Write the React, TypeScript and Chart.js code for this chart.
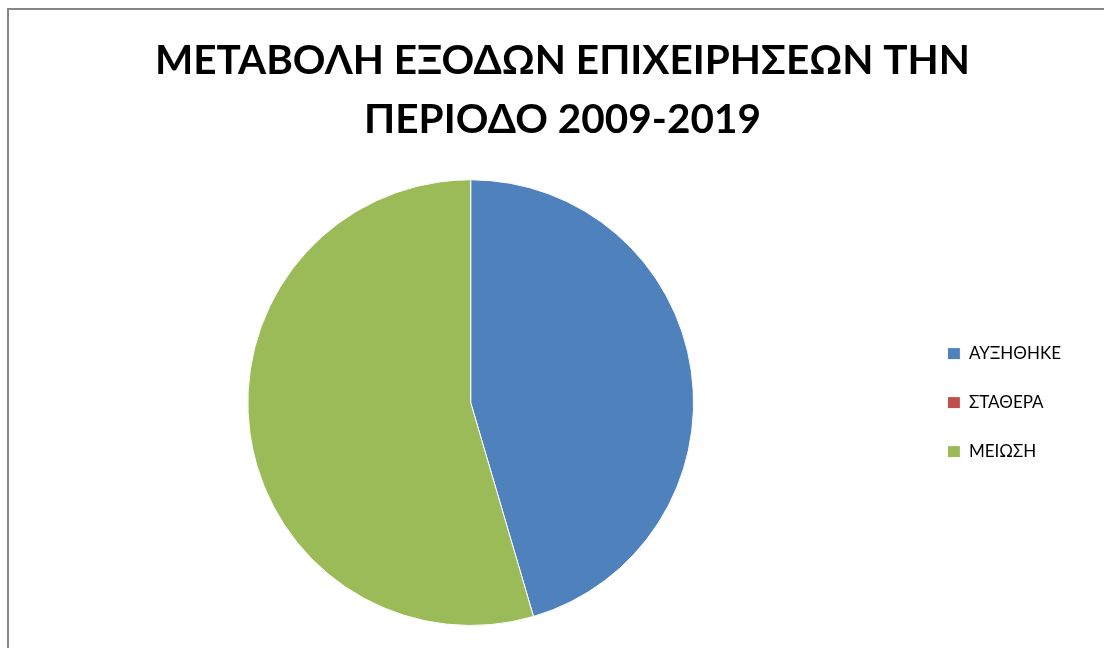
import React, { useEffect, useRef } from "react";
import { Chart, registerables } from "chart.js";

Chart.register(...registerables);

const titleLines = ["ΜΕΤΑΒΟΛΗ ΕΞΟΔΩΝ ΕΠΙΧΕΙΡΗΣΕΩΝ ΤΗΝ", "ΠΕΡΙΟΔΟ 2009-2019"];
const categories = ["ΑΥΞΗΘΗΚΕ", "ΣΤΑΘΕΡΑ", "ΜΕΙΩΣΗ"];
const values = [5, 0, 6];
const colors = ["#4F81BD", "#C0504D", "#9BBB59"];

const legendWidener = {
  id: "legendWidener",
  beforeInit(chart: any) {
    const legend = chart.legend;
    if (!legend) return;
    const originalFit = legend.fit;
    legend.fit = function fit() {
      originalFit.call(this);
      this.width += 28;
    };
  },
};

export default function App() {
  const ref = useRef<HTMLCanvasElement | null>(null);

  useEffect(() => {
    const canvas = ref.current;
    if (!canvas) return;
    const chart = new Chart(canvas, {
      type: "pie",
      data: {
        labels: categories,
        datasets: [
          {
            data: values,
            backgroundColor: colors,
            borderColor: "#ffffff",
            borderWidth: 1,
          },
        ],
      },
      plugins: [legendWidener],
      options: {
        responsive: false,
        animation: false,
        events: [],
        layout: { padding: { top: 0, left: 26, right: 5, bottom: 22 } },
        plugins: {
          tooltip: { enabled: false },
          title: {
            display: true,
            text: titleLines,
            color: "#000000",
            font: { family: "Lato", weight: "bold", size: 40.5, lineHeight: 1.46 },
            padding: { top: 31, bottom: 30 },
          },
          legend: {
            position: "right",
            fullSize: false,
            align: "center",
            labels: {
              color: "#000000",
              font: { family: "Lato", size: 17 },
              boxWidth: 13,
              boxHeight: 12,
              padding: 32,
            },
          },
        },
      },
    });
    return () => chart.destroy();
  }, []);

  return (
    <div
      style={{
        position: "fixed",
        left: 0,
        top: 0,
        width: 1104,
        height: 648,
        overflow: "hidden",
        background: "#ffffff",
      }}
    >
      <canvas
        ref={ref}
        width={1104}
        height={648}
        style={{ position: "absolute", left: 0, top: 0, width: 1104, height: 648 }}
      />
      <div
        style={{
          position: "absolute",
          left: 7,
          top: 8,
          width: 1200,
          height: 800,
          border: "2px solid #868686",
          pointerEvents: "none",
        }}
      />
    </div>
  );
}
